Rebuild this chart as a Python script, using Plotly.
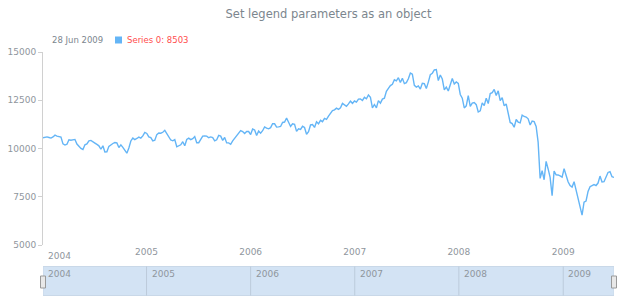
import pandas as pd
import plotly.graph_objects as go

# ---------------- data ----------------
series_name = "Series 0"
start_date = "2004-01-04"
end_date = "2009-06-28"

values_2004 = [10560, 10580, 10600, 10570, 10540, 10600, 10690, 10640, 10600, 10590,
               10240, 10180, 10220, 10450, 10430, 10450, 10470, 10230, 10120, 10000,
               9950, 10190, 10240, 10400, 10420, 10370, 10280, 10210, 10140, 9960,
               10140, 9820, 9830, 10110, 10200, 10260, 10310, 10290, 10050, 10190,
               10060, 9930, 9760, 10030, 10390, 10540, 10460, 10520, 10590, 10540,
               10650, 10830]
values_2005 = [10780, 10600, 10560, 10390, 10430, 10720, 10800, 10790, 10840, 10940,
               10770, 10630, 10440, 10400, 10460, 10090, 10160, 10190, 10350, 10140,
               10470, 10540, 10460, 10510, 10620, 10300, 10300, 10450, 10640, 10650,
               10640, 10560, 10600, 10560, 10400, 10450, 10680, 10640, 10420, 10570,
               10290, 10290, 10220, 10400, 10530, 10690, 10770, 10930, 10880, 10780,
               10880, 10880]
values_2006 = [10720, 11010, 10960, 10670, 10910, 10790, 10920, 11120, 11060, 11020,
               11080, 11280, 11280, 11110, 11120, 11140, 11350, 11370, 11580, 11380,
               11140, 11280, 11250, 10890, 11020, 10990, 11150, 11090, 10740, 10870,
               11220, 11240, 11090, 11380, 11280, 11460, 11390, 11560, 11510, 11680,
               11850, 11960, 12000, 12090, 12030, 12110, 12340, 12280, 12190, 12310,
               12450, 12340, 12460]
values_2007 = [12400, 12560, 12570, 12490, 12650, 12580, 12770, 12650, 12110, 12280,
               12110, 12480, 12350, 12560, 12610, 12960, 13120, 13260, 13330, 13560,
               13510, 13670, 13420, 13640, 13360, 13410, 13610, 13910, 13850, 13270,
               13180, 13240, 13080, 13380, 13360, 13110, 13440, 13820, 13900, 14070,
               14090, 13520, 13810, 13600, 13040, 13180, 12980, 13370, 13630, 13340,
               13450, 13370]
values_2008 = [12800, 12610, 12100, 12210, 12740, 12180, 12350, 12380, 12270, 11890,
               11950, 12360, 12220, 12610, 12330, 12850, 12890, 13060, 12750, 12990,
               12480, 12640, 12210, 12310, 11840, 11350, 11290, 11100, 11500, 11370,
               11330, 11730, 11660, 11630, 11540, 11220, 11420, 11390, 11140, 10330,
               8450, 8850, 8380, 9330, 8940, 8500, 7550, 8830, 8640, 8630,
               8580, 8520]
values_2009 = [8950, 8600, 8280, 8080, 8000, 8280, 7850, 7370, 7060, 6550,
               7220, 7280, 7780, 8020, 8080, 8130, 8080, 8210, 8570, 8270,
               8280, 8500, 8760, 8800, 8540, 8503]

y_ticks = [5000, 7500, 10000, 12500, 15000]
years = [2004, 2005, 2006, 2007, 2008, 2009]

values = values_2004 + values_2005 + values_2006 + values_2007 + values_2008 + values_2009
dates = pd.date_range(start_date, end_date, freq="7D")
assert len(dates) == len(values), (len(dates), len(values))

# ---------------- layout helpers ----------------
W, H = 620, 300
ML, MR, MT, MB = 43, 6, 52, 55
PW, PH = W - ML - MR, H - MT - MB


def py(pix_y):
    return (H - MB - pix_y) / PH


def px(pix_x):
    return (pix_x - ML) / PW


grey = "#7c868e"
light_grey = "#8f969d"
line_col = "#64b5f6"

fig = go.Figure()
fig.add_trace(go.Scatter(x=dates, y=values, mode="lines", name=series_name,
                         line=dict(color=line_col, width=1.4), showlegend=False,
                         hoverinfo="x+y"))

year_starts = [pd.Timestamp(f"{y}-01-01") for y in years]

fig.update_layout(
    width=W, height=H,
    margin=dict(l=ML, r=MR, t=MT, b=MB, pad=0),
    paper_bgcolor="white", plot_bgcolor="white",
    font=dict(family="DejaVu Sans", color=grey),
    title=dict(text="Set legend parameters as an object", x=0.5, xref="paper",
               xanchor="center", y=1 - 14 / H, yref="container", yanchor="middle",
               font=dict(size=11.5, color=grey, family="DejaVu Sans")),
    xaxis=dict(type="date", range=[dates[0], dates[-1]], showgrid=False,
               showline=False, zeroline=False, ticks="",
               tickvals=year_starts[1:], ticktext=[str(y) for y in years[1:]],
               tickfont=dict(size=9, color=light_grey)),
    yaxis=dict(range=[y_ticks[0], y_ticks[-1]], tickvals=y_ticks,
               ticktext=[str(v) for v in y_ticks], showgrid=False,
               zeroline=False, showline=True, linecolor="#d0d0d0", linewidth=1,
               ticks="outside", ticklen=4, tickcolor="#d0d0d0",
               tickfont=dict(size=9, color=light_grey)),
)

# first x label (left aligned at start)
fig.add_annotation(x=dates[0], y=py(256), xref="x", yref="paper", text=str(years[0]),
                   showarrow=False, xanchor="left", yanchor="middle", xshift=3,
                   font=dict(size=9, color=light_grey))

# legend (date + marker + series value)
fig.add_annotation(x=px(50), y=py(40), xref="paper", yref="paper",
                   text=dates[-1].strftime("%d %b %Y"), showarrow=False,
                   xanchor="left", yanchor="middle",
                   font=dict(size=8.5, color=grey))
fig.add_shape(type="rect", xref="paper", yref="paper", x0=px(115), x1=px(122),
              y0=py(36.5), y1=py(43.5), fillcolor=line_col, line=dict(width=0))
fig.add_annotation(x=px(125), y=py(40), xref="paper", yref="paper",
                   text=f"{series_name}: {values[-1]}", showarrow=False,
                   xanchor="left", yanchor="middle",
                   font=dict(size=8.5, color="#ff4d4d"))

# scroller
s_top, s_bot = 266.5, 295.5
fig.add_shape(type="rect", xref="x", yref="paper", x0=dates[0], x1=dates[-1],
              y0=py(s_bot), y1=py(s_top), fillcolor="#d3e3f4",
              line=dict(color="#c9d8e8", width=1), layer="below")
for ys in year_starts[1:]:
    fig.add_shape(type="line", xref="x", yref="paper", x0=ys, x1=ys,
                  y0=py(s_bot), y1=py(s_top), line=dict(color="#bccbdb", width=1))
for y, ys in zip(years, [dates[0]] + year_starts[1:]):
    fig.add_annotation(x=ys, y=py(273.5), xref="x", yref="paper", text=str(y),
                       showarrow=False, xanchor="left", yanchor="middle", xshift=3,
                       font=dict(size=9, color=light_grey))
for hx in (43, 614):
    fig.add_shape(type="rect", xref="paper", yref="paper",
                  x0=px(hx - 2.5), x1=px(hx + 2.5), y0=py(288), y1=py(276),
                  fillcolor="#e8e8e8", line=dict(color="#9a9a9a", width=1))

fig.write_html("out.html")
